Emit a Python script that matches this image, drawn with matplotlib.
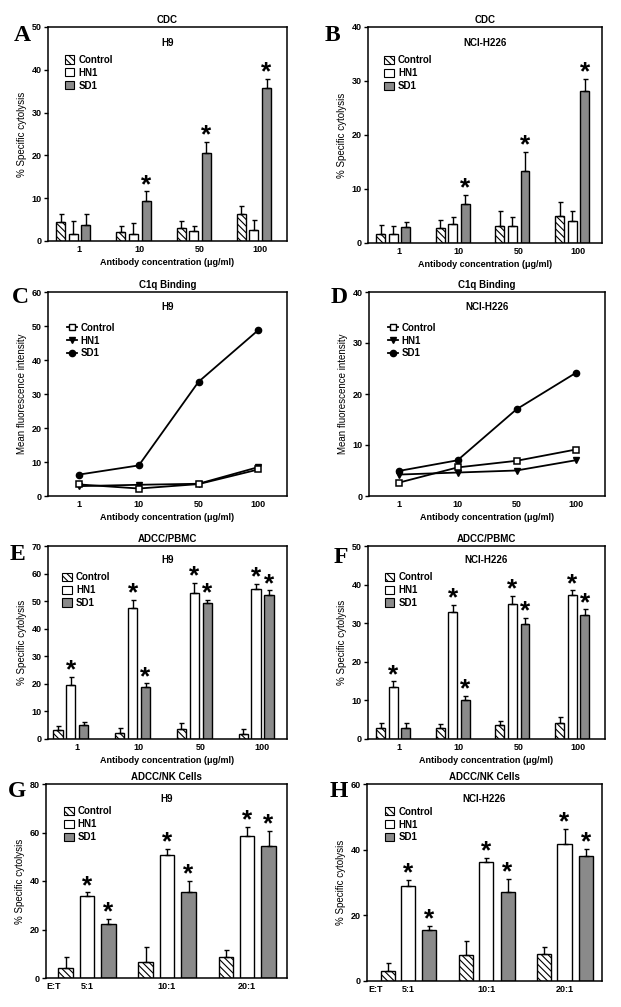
import matplotlib
matplotlib.use('Agg')
import matplotlib.pyplot as plt
from matplotlib.patches import Patch
from matplotlib.lines import Line2D
import numpy as np

plt.rcParams['font.family'] = ['Liberation Sans', 'DejaVu Sans']
plt.rcParams['font.weight'] = 'bold'
plt.rcParams['hatch.linewidth'] = 0.8

series = ['Control', 'HN1', 'SD1']
conc = ['1', '10', '50', '100']
ratios = ['5:1', '10:1', '20:1']

# A - CDC, H9
a_ctrl = [4.4, 2.2, 3.0, 6.4]
a_ctrl_err = [2.0, 1.2, 1.6, 1.8]
a_hn1 = [1.7, 1.6, 2.3, 2.6]
a_hn1_err = [3.0, 2.7, 1.1, 2.3]
a_sd1 = [3.8, 9.3, 20.6, 35.8]
a_sd1_err = [2.4, 2.3, 2.6, 2.1]

# B - CDC, NCI-H226
b_ctrl = [1.6, 2.7, 3.1, 5.0]
b_ctrl_err = [1.8, 1.6, 2.9, 2.6]
b_hn1 = [1.7, 3.5, 3.2, 4.0]
b_hn1_err = [1.4, 1.3, 1.6, 2.0]
b_sd1 = [2.9, 7.2, 13.3, 28.1]
b_sd1_err = [1.0, 1.7, 3.6, 2.3]

# C - C1q binding, H9
c_ctrl = [3.4, 2.2, 3.5, 7.8]
c_hn1 = [2.9, 3.3, 3.6, 8.5]
c_sd1 = [6.3, 9.0, 33.6, 48.8]

# D - C1q binding, NCI-H226
d_ctrl = [2.6, 5.6, 6.9, 9.1]
d_hn1 = [4.2, 4.6, 5.0, 7.0]
d_sd1 = [4.9, 7.0, 17.0, 24.1]

# E - ADCC/PBMC, H9
e_ctrl = [3.1, 2.3, 3.6, 1.8]
e_ctrl_err = [1.7, 1.7, 2.1, 1.9]
e_hn1 = [19.7, 47.6, 53.1, 54.4]
e_hn1_err = [2.8, 2.9, 3.4, 1.8]
e_sd1 = [5.1, 18.9, 49.3, 52.4]
e_sd1_err = [1.2, 1.3, 1.2, 1.5]

# F - ADCC/PBMC, NCI-H226
f_ctrl = [2.8, 2.8, 3.6, 4.1]
f_ctrl_err = [1.3, 1.1, 1.1, 1.6]
f_hn1 = [13.6, 32.9, 35.1, 37.2]
f_hn1_err = [1.3, 1.9, 2.0, 1.3]
f_sd1 = [2.8, 10.0, 29.8, 32.2]
f_sd1_err = [1.3, 1.1, 1.5, 1.4]

# G - ADCC/NK cells, H9
g_ctrl = [4.3, 6.8, 8.5]
g_ctrl_err = [4.2, 5.8, 3.0]
g_hn1 = [33.8, 50.8, 58.4]
g_hn1_err = [1.5, 2.5, 3.9]
g_sd1 = [22.4, 35.6, 54.3]
g_sd1_err = [2.0, 4.3, 6.5]

# H - ADCC/NK cells, NCI-H226
h_ctrl = [3.1, 7.9, 8.1]
h_ctrl_err = [2.3, 4.3, 2.3]
h_hn1 = [28.8, 36.1, 41.8]
h_hn1_err = [2.0, 1.5, 4.5]
h_sd1 = [15.5, 27.2, 38.2]
h_sd1_err = [1.4, 4.0, 2.0]

# which bars get a star
a_stars = {'SD1': [1, 2, 3]}
b_stars = {'SD1': [1, 2, 3]}
e_stars = {'HN1': [0, 1, 2, 3], 'SD1': [1, 2, 3]}
f_stars = {'HN1': [0, 1, 2, 3], 'SD1': [1, 2, 3]}
g_stars = {'HN1': [0, 1, 2], 'SD1': [0, 1, 2]}
h_stars = {'HN1': [0, 1, 2], 'SD1': [0, 1, 2]}

W, H = 621, 1007
fig = plt.figure(figsize=(W / 100, H / 100), dpi=100)


def make_ax(l, r, t, b):
    return fig.add_axes([l / W, 1 - b / H, (r - l) / W, (b - t) / H])


def style(ax, title, sub, ylabel, ymax, ystep, letter, lx, ly):
    ax.set_title(title, fontsize=7, fontweight='bold', pad=3)
    ax.text(0.5, 0.925, sub, transform=ax.transAxes, ha='center', va='center',
            fontsize=7, fontweight='bold')
    ax.set_ylabel(ylabel, fontsize=7, fontweight='normal', labelpad=3)
    ax.set_ylim(0, ymax)
    ax.set_yticks(np.arange(0, ymax + 1, ystep))
    ax.tick_params(axis='y', direction='out', length=3, width=1, labelsize=6.5, pad=1.5)
    ax.tick_params(axis='x', length=0, labelsize=6.5, pad=3)
    for s in ax.spines.values():
        s.set_linewidth(1.1)
    for lab in ax.get_xticklabels() + ax.get_yticklabels():
        lab.set_fontweight('bold')
    fig.text(lx / W, 1 - ly / H, letter, fontsize=17, fontweight='bold',
             family='Liberation Serif', ha='left', va='top')


bar_styles = {
    'Control': dict(facecolor='white', hatch='\\\\\\\\\\'),
    'HN1': dict(facecolor='white'),
    'SD1': dict(facecolor='#8a8a8a'),
}


def bar_panel(ax, vals, errs, stars, offsets, width):
    n = len(vals[0])
    x = np.arange(n)
    for name, v, e, off in zip(series, vals, errs, offsets):
        ax.bar(x + off, v, width, edgecolor='black', linewidth=1.0,
               yerr=[np.zeros(n), e], capsize=1.8,
               error_kw=dict(elinewidth=1.0, capthick=1.0, ecolor='black'),
               **bar_styles[name])
        for i in stars.get(name, []):
            ax.annotate('*', (x[i] + off, v[i] + e[i]), xytext=(0, -4),
                        textcoords='offset points', ha='center', va='bottom',
                        fontsize=19, fontweight='bold')
    handles = [Patch(edgecolor='black', linewidth=0.8, **bar_styles[s]) for s in series]
    return handles


def add_legend(ax, handles, x, y, hl=1.0):
    ax.legend(handles, series, loc='upper left', bbox_to_anchor=(x, y), frameon=False,
              prop={'weight': 'bold', 'size': 7}, borderpad=0, borderaxespad=0,
              handlelength=hl, handleheight=0.9, handletextpad=0.4, labelspacing=0.3)


xlab = 'Antibody concentration (\u03bcg/ml)'
bar_off = [-0.21, 0.0, 0.21]

# ---- A
ax = make_ax(48, 287, 27, 241)
hs = bar_panel(ax, [a_ctrl, a_hn1, a_sd1], [a_ctrl_err, a_hn1_err, a_sd1_err], a_stars, bar_off, 0.15)
ax.set_xlim(-0.42, 3.55)
ax.set_xticks(np.arange(4) + 0.1)
ax.set_xticklabels(conc)
ax.set_xlabel(xlab, fontsize=6.5, fontweight='bold', labelpad=3)
style(ax, 'CDC', 'H9', '% Specific cytolysis', 50, 10, 'A', 14, 25)
add_legend(ax, hs, 0.07, 0.87)

# ---- B
ax = make_ax(368, 602, 27, 243)
hs = bar_panel(ax, [b_ctrl, b_hn1, b_sd1], [b_ctrl_err, b_hn1_err, b_sd1_err], b_stars, bar_off, 0.15)
ax.set_xlim(-0.42, 3.5)
ax.set_xticks(np.arange(4) + 0.1)
ax.set_xticklabels(conc)
ax.set_xlabel(xlab, fontsize=6.5, fontweight='bold', labelpad=3)
style(ax, 'CDC', 'NCI-H226', '% Specific cytolysis', 40, 10, 'B', 325, 25)
add_legend(ax, hs, 0.07, 0.87)


# ---- C, D line panels
def line_panel(ax, ctrl, hn1, sd1):
    x = np.arange(len(ctrl))
    ax.plot(x, sd1, '-o', color='black', lw=1.3, ms=4.5)
    ax.plot(x, hn1, '-v', color='black', lw=1.3, ms=4.5)
    ax.plot(x, ctrl, '-s', color='black', lw=1.3, ms=5, mfc='white', mew=1.1)
    return [Line2D([], [], color='black', lw=1.3, marker='s', ms=5, mfc='white'),
            Line2D([], [], color='black', lw=1.3, marker='v', ms=4.5),
            Line2D([], [], color='black', lw=1.3, marker='o', ms=4.5)]


ax = make_ax(48, 287, 292, 496)
hs = line_panel(ax, c_ctrl, c_hn1, c_sd1)
ax.set_xlim(-0.52, 3.48)
ax.set_xticks(np.arange(4))
ax.set_xticklabels(conc)
ax.set_xlabel(xlab, fontsize=6.5, fontweight='bold', labelpad=3)
style(ax, 'C1q Binding', 'H9', 'Mean fluorescence intensity', 60, 10, 'C', 12, 287)
add_legend(ax, hs, 0.08, 0.85, hl=1.0)

ax = make_ax(369, 605, 292, 496)
hs = line_panel(ax, d_ctrl, d_hn1, d_sd1)
ax.set_xlim(-0.5, 3.5)
ax.set_xticks(np.arange(4))
ax.set_xticklabels(conc)
ax.set_xlabel(xlab, fontsize=6.5, fontweight='bold', labelpad=3)
style(ax, 'C1q Binding', 'NCI-H226', 'Mean fluorescence intensity', 40, 10, 'D', 331, 287)
add_legend(ax, hs, 0.08, 0.85, hl=1.0)

# ---- E
ax = make_ax(48, 287, 546, 739)
hs = bar_panel(ax, [e_ctrl, e_hn1, e_sd1], [e_ctrl_err, e_hn1_err, e_sd1_err], e_stars, bar_off, 0.15)
ax.set_xlim(-0.37, 3.5)
ax.set_xticks(np.arange(4) + 0.1)
ax.set_xticklabels(conc)
ax.set_xlabel(xlab, fontsize=6.5, fontweight='bold', labelpad=3)
style(ax, 'ADCC/PBMC', 'H9', '% Specific cytolysis', 70, 10, 'E', 10, 544)
add_legend(ax, hs, 0.06, 0.865)

# ---- F
ax = make_ax(368, 605, 546, 739)
hs = bar_panel(ax, [f_ctrl, f_hn1, f_sd1], [f_ctrl_err, f_hn1_err, f_sd1_err], f_stars, bar_off, 0.15)
ax.set_xlim(-0.42, 3.55)
ax.set_xticks(np.arange(4) + 0.1)
ax.set_xticklabels(conc)
ax.set_xlabel(xlab, fontsize=6.5, fontweight='bold', labelpad=3)
style(ax, 'ADCC/PBMC', 'NCI-H226', '% Specific cytolysis', 50, 10, 'F', 334, 547)
add_legend(ax, hs, 0.07, 0.865)

# ---- G
nk_off = [-0.265, 0.0, 0.27]
ax = make_ax(46, 287, 784, 978)
hs = bar_panel(ax, [g_ctrl, g_hn1, g_sd1], [g_ctrl_err, g_hn1_err, g_sd1_err], g_stars, nk_off, 0.18)
ax.set_xlim(-0.51, 2.5)
ax.set_xticks(np.arange(3))
ax.set_xticklabels(ratios)
ax.text(-0.42, -0.02, 'E:T', transform=ax.get_xaxis_transform(), ha='center', va='top',
        fontsize=6.5, fontweight='bold')
style(ax, 'ADCC/NK Cells', 'H9', '% Specific cytolysis', 80, 20, 'G', 8, 781)
add_legend(ax, hs, 0.075, 0.885)

# ---- H
ax = make_ax(367, 602, 784, 981)
hs = bar_panel(ax, [h_ctrl, h_hn1, h_sd1], [h_ctrl_err, h_hn1_err, h_sd1_err], h_stars, nk_off, 0.18)
ax.set_xlim(-0.53, 2.48)
ax.set_xticks(np.arange(3))
ax.set_xticklabels(ratios)
ax.text(-0.42, -0.02, 'E:T', transform=ax.get_xaxis_transform(), ha='center', va='top',
        fontsize=6.5, fontweight='bold')
style(ax, 'ADCC/NK Cells', 'NCI-H226', '% Specific cytolysis', 60, 20, 'H', 330, 781)
add_legend(ax, hs, 0.075, 0.885)

fig.savefig('out.png', dpi=100)
